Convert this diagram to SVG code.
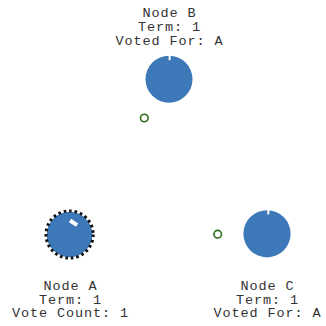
<svg xmlns="http://www.w3.org/2000/svg" width="326" height="326" viewBox="0 0 326 326">
  <style>
    .label { font-family: "Liberation Mono", "Courier New", monospace; font-size: 13.5px; letter-spacing: 0.9px; fill: #333; text-anchor: middle; }
    .node { fill: #3d78b8; }
    .leader-ring { fill: none; stroke: #111; stroke-width: 3; stroke-dasharray: 2.6 2.9; }
    .notch { stroke: #fff; stroke-width: 2; }
    .msg { fill: none; stroke: #2c6e1c; stroke-width: 1.6; }
  </style>
  <rect width="326" height="326" fill="#fff"/>

  <!-- messages in flight -->
  <g id="connectors">
    <circle class="msg" cx="144.3" cy="118" r="3.8"/>
    <circle class="msg" cx="217.7" cy="234.2" r="3.8"/>
  </g>

  <!-- Node B: follower -->
  <g id="node-b">
    <text class="label" x="169.5" y="16.5">Node B</text>
    <text class="label" x="169.5" y="30.5">Term: 1</text>
    <text class="label" x="169.5" y="44.5">Voted For: A</text>
    <circle class="node" cx="169" cy="79.2" r="23.5"/>
    <line class="notch" x1="169.6" y1="55" x2="169.6" y2="60.2"/>
  </g>

  <!-- Node A: leader -->
  <g id="node-a">
    <circle class="node" cx="69.6" cy="234.5" r="22.8"/>
    <circle class="leader-ring" cx="69.6" cy="234.5" r="23.6"/>
    <rect x="-4.2" y="-2" width="8.4" height="4" fill="#fff" transform="translate(73.6 222.8) rotate(33)"/>
    <text class="label" x="70.5" y="290">Node A</text>
    <text class="label" x="70.5" y="303.5">Term: 1</text>
    <text class="label" x="70.5" y="317">Vote Count: 1</text>
  </g>

  <!-- Node C: follower -->
  <g id="node-c">
    <circle class="node" cx="267" cy="233.8" r="23.6"/>
    <line class="notch" x1="268.3" y1="209.5" x2="268.3" y2="214.4"/>
    <text class="label" x="267.5" y="290">Node C</text>
    <text class="label" x="267.5" y="303.5">Term: 1</text>
    <text class="label" x="267.5" y="317">Voted For: A</text>
  </g>
</svg>
